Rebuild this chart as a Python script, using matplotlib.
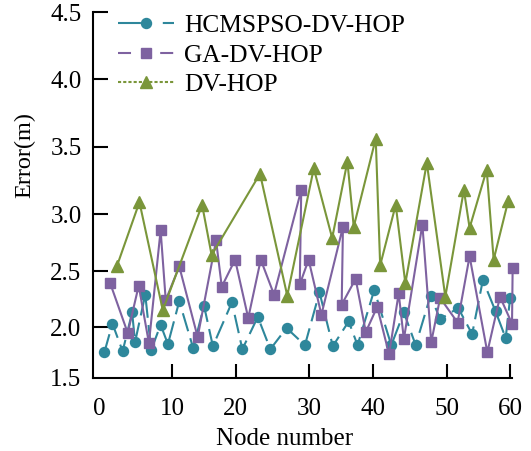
import numpy as np
import matplotlib.pyplot as plt
from matplotlib.lines import Line2D

# data
hcm_x = [0.7, 1.8, 3.2, 4.5, 4.9, 6.3, 7.1, 8.4, 9.4, 11.1, 13.3, 15.0, 16.4, 19.4, 20.9,
         23.0, 24.7, 26.9, 29.4, 31.6, 33.7, 36.2, 37.6, 40.2, 42.5, 44.2, 45.8, 47.8,
         49.1, 51.8, 54.0, 55.7, 57.7, 59.3, 60.0]
hcm_y = [1.75, 2.03, 1.76, 2.13, 1.85, 2.29, 1.77, 2.02, 1.83, 2.23, 1.79, 2.19, 1.81, 2.22,
         1.78, 2.09, 1.78, 1.99, 1.82, 2.31, 1.81, 2.05, 1.82, 2.33, 1.82, 2.13, 1.82, 2.28,
         2.07, 2.17, 1.93, 2.42, 2.14, 1.89, 2.26]

ga_x = [1.5, 3.9, 5.4, 6.8, 8.4, 9.1, 11.1, 14.0, 16.9, 17.8, 19.9, 21.7, 23.4, 25.2, 28.9,
        28.7, 29.9, 31.9, 35.3, 35.1, 37.3, 38.9, 40.6, 42.2, 43.5, 44.2, 46.7, 47.9, 49.1,
        51.7, 53.6, 56.4, 58.4, 60.3, 60.4]
ga_y = [2.39, 1.94, 2.37, 1.84, 2.86, 2.24, 2.54, 1.90, 2.77, 2.36, 2.60, 2.08, 2.60, 2.29,
        3.18, 2.38, 2.60, 2.11, 2.89, 2.20, 2.43, 1.95, 2.18, 1.73, 2.30, 1.88, 2.91, 1.85,
        2.26, 2.04, 2.63, 1.75, 2.27, 2.03, 2.53]

dv_x = [2.4, 5.5, 8.7, 14.7, 16.2, 23.3, 27.0, 30.7, 33.6, 36.0, 37.0, 40.4, 41.0, 43.1,
        44.4, 47.3, 49.8, 52.7, 53.6, 56.3, 57.4, 59.7]
dv_y = [2.54, 3.09, 2.15, 3.07, 2.64, 3.30, 2.28, 3.34, 2.79, 3.39, 2.89, 3.56, 2.55, 3.07,
        2.39, 3.38, 2.27, 3.18, 2.88, 3.33, 2.60, 3.10]

labels = ["HCMSPSO-DV-HOP", "GA-DV-HOP", "DV-HOP"]
x_ticks = [0, 10, 20, 30, 40, 50, 60]
y_ticks = [1.5, 2.0, 2.5, 3.0, 3.5, 4.0, 4.5]

# the original axes are not evenly spaced, so warp them piecewise
x_warp = [0.0, 73.0, 136.4, 210.0, 273.4, 347.4, 410.7]
y_warp = [0.0, 50.5, 106.5, 163.2, 230.8, 298.2, 365.2]


def piecewise(a, b):
    a = np.asarray(a, float)
    b = np.asarray(b, float)
    s0 = (b[1] - b[0]) / (a[1] - a[0])
    s1 = (b[-1] - b[-2]) / (a[-1] - a[-2])

    def f(v):
        v = np.asarray(v, float)
        out = np.interp(v, a, b)
        out = np.where(v < a[0], b[0] + (v - a[0]) * s0, out)
        out = np.where(v > a[-1], b[-1] + (v - a[-1]) * s1, out)
        return out
    return f


plt.rcParams['font.family'] = ['Liberation Serif', 'DejaVu Serif']

c_teal = "#2e879b"
c_purple = "#7e62a0"
c_green = "#7a963a"

fig = plt.figure(figsize=(5.31, 4.51), dpi=100)
ax = fig.add_axes([92.7 / 531, 73.5 / 451, 419.0 / 531, 365.2 / 451])

ax.set_xscale('function', functions=(piecewise(x_ticks, x_warp), piecewise(x_warp, x_ticks)))
ax.set_yscale('function', functions=(piecewise(y_ticks, y_warp), piecewise(y_warp, y_ticks)))

ax.plot(hcm_x, hcm_y, color=c_teal, lw=1.5, ls=(0, (9, 3.5)), marker='o', ms=7.2,
        clip_on=False, zorder=3)
ax.plot(ga_x, ga_y, color=c_purple, lw=1.5, marker='s', ms=7.2, clip_on=False, zorder=4)
ax.plot(dv_x, dv_y, color=c_green, lw=1.5, marker='^', ms=8, clip_on=False, zorder=5)

ax.set_xlim(-0.9, 60.25)
ax.set_ylim(1.5, 4.5)
ax.set_xticks(x_ticks)
ax.set_yticks(y_ticks)
ax.set_yticklabels(["%.1f" % v for v in y_ticks])

for s in ["top", "right"]:
    ax.spines[s].set_visible(False)
for s in ["left", "bottom"]:
    ax.spines[s].set_linewidth(1.5)

ax.tick_params(axis='both', direction='in', width=1.5, labelsize=18)
ax.tick_params(axis='y', length=11, pad=8)
ax.tick_params(axis='x', length=10, pad=15)
ax.xaxis.get_major_ticks()[0].tick1line.set_visible(False)
ax.yaxis.get_major_ticks()[0].tick1line.set_visible(False)

ax.set_xlabel("Node number", fontsize=18)
ax.set_ylabel("Error(m)", fontsize=17.5)
ax.xaxis.set_label_coords(0.459, -0.138)
ax.yaxis.set_label_coords(-0.1375, 0.609)

# legend uses its own line styles
handles = [
    Line2D([], [], color=c_teal, lw=1.5, ls=(0, (11, 10.5)), marker='o', ms=7.2),
    Line2D([], [], color=c_purple, lw=1.5, ls=(0, (6.25, 14)), marker='s', ms=7.2),
    Line2D([], [], color=c_green, lw=1.5, ls=(0, (1.5, 1)), marker='^', ms=8),
]
ax.legend(handles, labels, loc='upper left', bbox_to_anchor=(0.0365, 1.022), frameon=False,
          fontsize=18.3, handlelength=2.2, handletextpad=0.4, labelspacing=0.26,
          borderaxespad=0.0)

fig.savefig("out.png", dpi=100)
